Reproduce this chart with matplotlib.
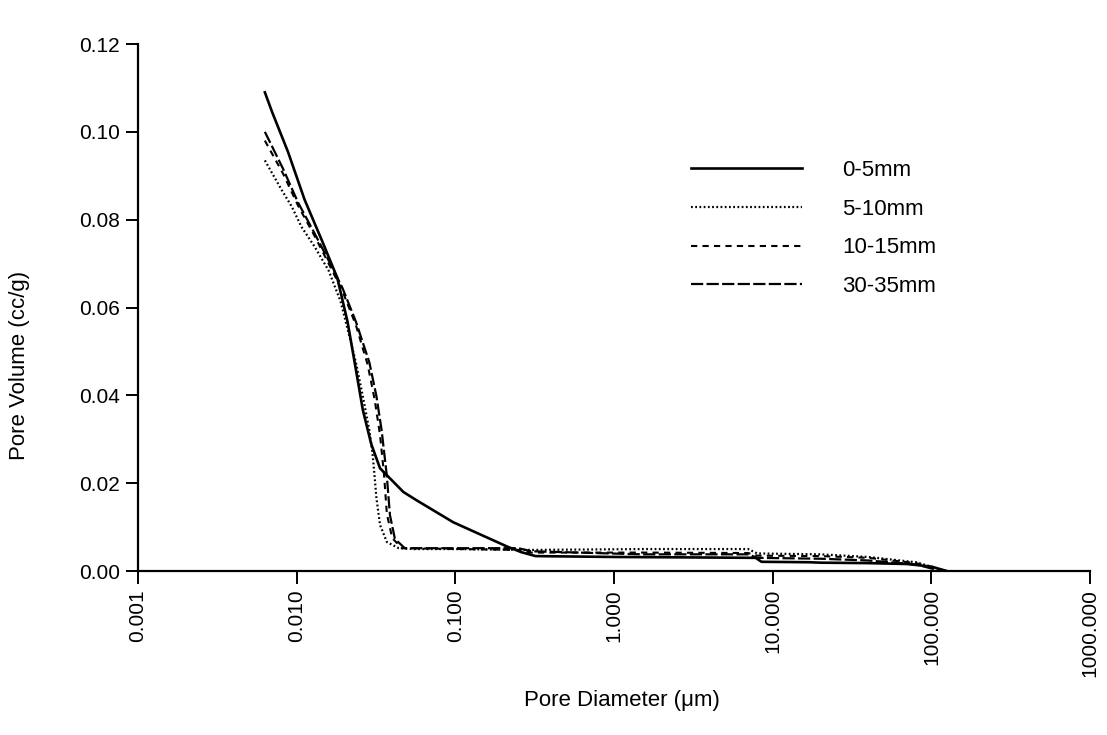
import numpy as np
import matplotlib
matplotlib.use('Agg')
import matplotlib.pyplot as plt

plt.rcParams['font.family'] = ['Liberation Sans', 'DejaVu Sans']

# pore diameter (um) / cumulative pore volume (cc/g) for each depth
d_0_5 = [0.0063, 0.0070, 0.0088, 0.0112, 0.0144, 0.018, 0.0209, 0.0236, 0.0261, 0.0295,
         0.0335, 0.047, 0.057, 0.097, 0.214, 0.26, 0.32, 1.0, 3.0, 7.8, 8.5, 17, 20, 40,
         70, 100, 125]
v_0_5 = [0.109, 0.1045, 0.0955, 0.0846, 0.0753, 0.0668, 0.0568, 0.0459, 0.0367, 0.0289,
         0.0234, 0.018, 0.0161, 0.0111, 0.0055, 0.0043, 0.0034, 0.0032, 0.0031, 0.0030,
         0.0021, 0.0020, 0.0019, 0.0018, 0.0016, 0.0010, 0.0]

d_5_10 = [0.0063, 0.0080, 0.0093, 0.0107, 0.0130, 0.0159, 0.0189, 0.0209, 0.0236, 0.0261,
          0.0287, 0.0300, 0.0308, 0.0318, 0.0335, 0.0370, 0.044, 0.055, 0.1, 0.3, 1.5,
          7.0, 8.0, 20, 40, 80, 125]
v_5_10 = [0.0935, 0.0869, 0.083, 0.0784, 0.0738, 0.0684, 0.0614, 0.0552, 0.0475, 0.0398,
          0.032, 0.027, 0.0225, 0.0166, 0.0105, 0.0066, 0.0052, 0.0050, 0.0050, 0.0048,
          0.0050, 0.0050, 0.0040, 0.0038, 0.0032, 0.0020, 0.0]

d_10_15 = [0.0063, 0.0082, 0.0102, 0.0130, 0.0159, 0.0194, 0.0236, 0.0280, 0.0310, 0.0335,
           0.0355, 0.037, 0.040, 0.046, 0.25, 0.3, 1.5, 7.0, 8.0, 20, 40, 80, 120]
v_10_15 = [0.098, 0.0905, 0.0832, 0.0762, 0.0700, 0.0638, 0.0560, 0.0470, 0.0390, 0.031,
           0.022, 0.013, 0.0075, 0.0052, 0.0048, 0.0042, 0.0042, 0.0041, 0.0035, 0.0034,
           0.0030, 0.0018, 0.0]

d_30_35 = [0.0063, 0.0082, 0.0102, 0.0130, 0.0159, 0.0194, 0.0236, 0.0287, 0.0318, 0.0343,
           0.0369, 0.0387, 0.0416, 0.048, 0.25, 0.3, 1.5, 7.0, 8.0, 20, 40, 80, 115]
v_30_35 = [0.100, 0.0916, 0.0839, 0.0768, 0.0707, 0.0645, 0.0568, 0.0475, 0.0398, 0.032,
           0.022, 0.0127, 0.0073, 0.0052, 0.0052, 0.0045, 0.0038, 0.0038, 0.0030, 0.0028,
           0.0024, 0.0015, 0.0]

labels = ['0-5mm', '5-10mm', '10-15mm', '30-35mm']
xticks = [0.001, 0.01, 0.1, 1, 10, 100, 1000]
xticklabels = ['0.001', '0.010', '0.100', '1.000', '10.000', '100.000', '1000.000']
yticks = [0.0, 0.02, 0.04, 0.06, 0.08, 0.10, 0.12]

fig = plt.figure(figsize=(11.07, 7.35), dpi=100)
ax = fig.add_axes([0.1247, 0.2231, 0.86, 0.717])

ax.plot(d_0_5, v_0_5, color='black', lw=1.9, linestyle='-', label=labels[0])
ax.plot(d_5_10, v_5_10, color='black', lw=1.6, linestyle=(0, (0.8, 1.1)), label=labels[1])
ax.plot(d_10_15, v_10_15, color='black', lw=1.5, linestyle=(0, (3, 2.5)), label=labels[2])
ax.plot(d_30_35, v_30_35, color='black', lw=1.6, linestyle=(0, (5.5, 1.5)), label=labels[3])

ax.set_xscale('log')
ax.set_xlim(0.001, 1000)
ax.set_ylim(0, 0.12)
ax.set_xticks(xticks)
ax.set_xticklabels(xticklabels, rotation=90)
ax.minorticks_off()
ax.set_yticks(yticks)
ax.set_yticklabels([f'{t:.2f}' for t in yticks])

for s in ['top', 'right']:
    ax.spines[s].set_visible(False)
for s in ['left', 'bottom']:
    ax.spines[s].set_linewidth(1.6)
ax.tick_params(axis='both', direction='out', length=9, width=1.4, labelsize=15, pad=4)

ax.set_xlabel('Pore Diameter (μm)', fontsize=16)
ax.set_ylabel('Pore Volume (cc/g)', fontsize=16)
ax.xaxis.set_label_coords(0.508, -0.226)
ax.yaxis.set_label_coords(-0.113, 0.39)

ax.legend(loc='upper left', bbox_to_anchor=(0.56, 0.818), frameon=False, fontsize=16,
          handlelength=5.0, handletextpad=1.8, labelspacing=0.8)

fig.savefig('out.png', dpi=100)
